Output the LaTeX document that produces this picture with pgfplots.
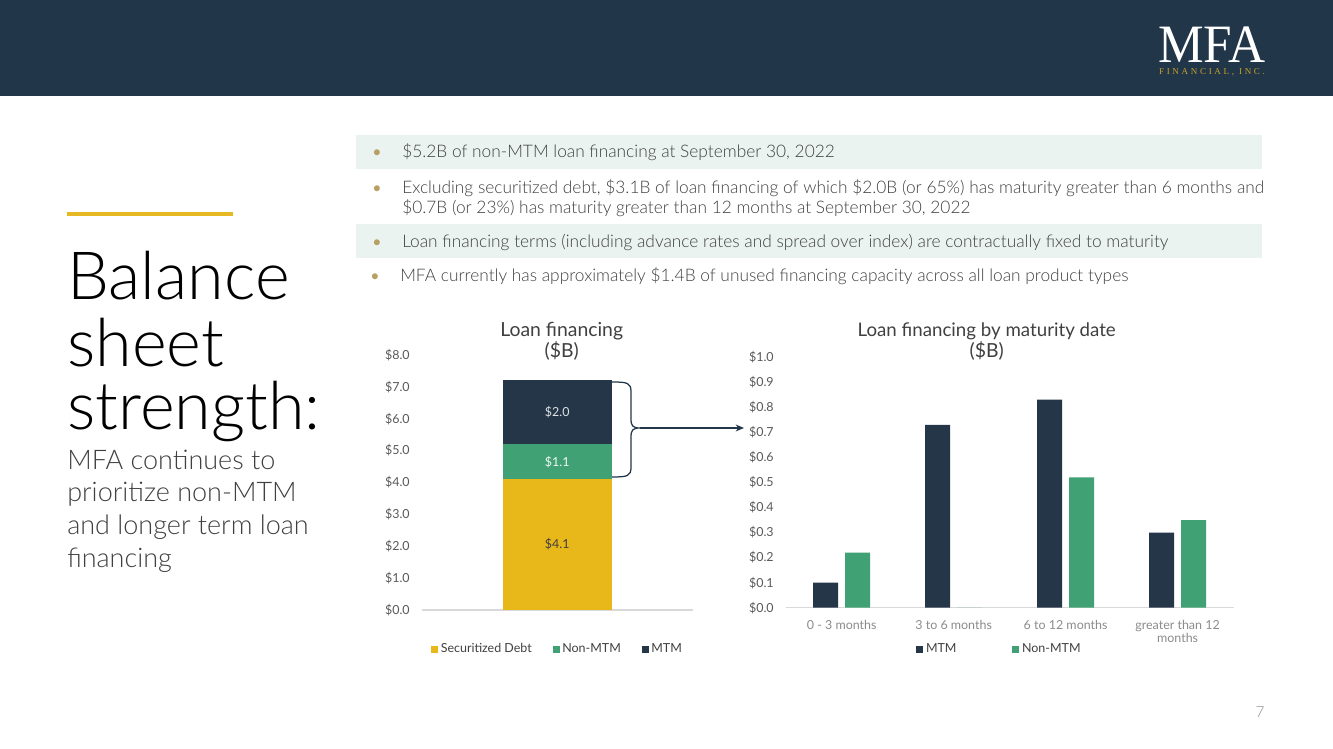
\documentclass[border=0pt]{standalone}
\usepackage{pgfplots}
\pgfplotsset{compat=1.18}
\usepackage{fontspec}
\setmainfont{Lato}
\newfontfamily\latolight{Lato Light}
\newfontfamily\logofont{Liberation Serif}
\newfontfamily\logosmall{Liberation Serif}[LetterSpace=30]
\usetikzlibrary{arrows.meta}

\definecolor{navy}{HTML}{22364A}
\definecolor{mtm}{HTML}{243648}
\definecolor{nonmtm}{HTML}{40A174}
\definecolor{secdebt}{HTML}{E8B71A}
\definecolor{gold}{HTML}{E6B824}
\definecolor{logogold}{HTML}{C9A227}
\definecolor{bandbg}{HTML}{EAF3EF}
\definecolor{bulletc}{HTML}{B89F63}
\definecolor{txt}{HTML}{404040}
\definecolor{ticktxt}{HTML}{595959}
\definecolor{cattxt}{HTML}{8C8C8C}
\definecolor{axisgray}{HTML}{D9D9D9}

\pgfplotsset{
  sq legend/.style={legend image code/.code={\fill[##1] (0in,-0.035in) rectangle (0.07in,0.035in);}},
  slide axis/.style={
    scale only axis, anchor=south west, enlargelimits=false,
    axis lines*=left, axis line style={-, draw=none},
    x axis line style={draw=axisgray, line width=1.1pt},
    major tick length=0pt,
    /pgf/number format/assume math mode=true,
    yticklabel={\$\pgfmathprintnumber[fixed,fixed zerofill,precision=1]{\tick}},
    yticklabel style={font=\fontsize{9}{10}\selectfont, text=ticktxt, inner sep=0pt, anchor=east, xshift=-0.117in},
    legend style={draw=none, fill=none, anchor=center, font=\fontsize{9}{10}\selectfont, text=txt},
  },
}

\begin{document}
\begin{tikzpicture}[x=0.01in,y=0.01in]
% slide and header
\fill[white] (0,0) rectangle (1333,749);
\fill[navy] (0,653) rectangle (1333,749);
\node[anchor=base, inner sep=0pt, white, font=\logofont\fontsize{39}{39}\selectfont, xscale=0.95] at (1212,686.5) {MFA};
\node[anchor=base, inner sep=0pt, logogold, font=\logosmall\fontsize{6.5}{7}\selectfont] at (1212,674.5) {FINANCIAL, INC.};

% left title block
\fill[gold] (66.7,533) rectangle (233.3,537);
\begin{scope}[every node/.style={anchor=base west, inner sep=0pt}]
\node[font=\latolight\fontsize{48}{48}\selectfont, text=black] at (67,449) {Balance};
\node[font=\latolight\fontsize{48}{48}\selectfont, text=black] at (67,382.3) {sheet};
\node[font=\latolight\fontsize{48}{48}\selectfont, text=black] at (67,319) {strength:};
\node[font=\latolight\fontsize{19.5}{20}\selectfont, text=txt] at (67,279.7) {MFA continues to};
\node[font=\latolight\fontsize{19.5}{20}\selectfont, text=txt] at (67,247) {prioritize non-MTM};
\node[font=\latolight\fontsize{19.5}{20}\selectfont, text=txt] at (67,214) {and longer term loan};
\node[font=\latolight\fontsize{19.5}{20}\selectfont, text=txt] at (67,181) {financing};
\end{scope}

% bullets
\fill[bandbg] (356,580) rectangle (1262,614);
\fill[bandbg] (356,491) rectangle (1262,525);
\begin{scope}[every node/.style={anchor=base west, inner sep=0pt, text=txt, font=\latolight\fontsize{12.5}{14}\selectfont}]
\node at (402,591.7) {\$5.2B of non-MTM loan financing at September 30, 2022};
\node at (402,555.7) {Excluding securitized debt, \$3.1B of loan financing of which \$2.0B (or 65\%) has maturity greater than 6 months and};
\node at (402,535.7) {\$0.7B (or 23\%) has maturity greater than 12 months at September 30, 2022};
\node at (402,501.7) {Loan financing terms (including advance rates and spread over index) are contractually fixed to maturity};
\node at (400,467.3) {MFA currently has approximately \$1.4B of unused financing capacity across all loan product types};
\end{scope}
\begin{scope}[every node/.style={anchor=base, inner sep=0pt, text=bulletc, font=\fontsize{11.5}{14}\selectfont}]
\node at (377,591.7) {•};
\node at (377,555.7) {•};
\node at (377,501.7) {•};
\node at (375,467.3) {•};
\end{scope}

\coordinate (leftorigin) at (421.7,139);
\coordinate (rightorigin) at (785.7,141.3);

% left chart: loan financing
\begin{axis}[slide axis, sq legend,
  at={(leftorigin)}, width=2.71in, height=2.55in,
  xmin=0, xmax=2, ymin=0, ymax=8,
  ybar stacked, bar width=1.087in,
  xtick=\empty, ytick={0,1,2,3,4,5,6,7,8},
  legend columns=3,
  legend style={at={(0.502,-0.153)}, /tikz/every even column/.append style={column sep=0.18in}},
  nodes near coords={\$\pgfmathprintnumber[fixed,fixed zerofill,precision=1]{\pgfplotspointmeta}},
  point meta=rawy,
]
\addplot[sq legend, fill=secdebt, draw=none, nodes near coords style={anchor=center, text=txt, font=\fontsize{9}{10}\selectfont}] coordinates {(1,4.1)};
\addlegendentry{Securitized Debt}
\addplot[sq legend, fill=nonmtm, draw=none, nodes near coords style={anchor=center, text=white!92!nonmtm, font=\fontsize{9}{10}\selectfont}] coordinates {(1,1.1)};
\addlegendentry{Non-MTM}
\addplot[sq legend, fill=mtm, draw=none, nodes near coords style={anchor=center, text=white!85!mtm, font=\fontsize{9}{10}\selectfont}] coordinates {(1,2.0)};
\addlegendentry{MTM}
\end{axis}

% right chart: by maturity date
\begin{axis}[slide axis, sq legend,
  at={(rightorigin)}, width=4.476in, height=2.504in,
  xmin=-0.5, xmax=3.5, ymin=0, ymax=1,
  ybar=0.07in, bar width=0.25in,
  xtick={0,1,2,3},
  xticklabels={0 - 3 months, 3 to 6 months, 6 to 12 months, {greater than 12\\months}},
  xticklabel style={align=center, text=cattxt, font=\fontsize{9}{10}\selectfont, inner sep=0pt, anchor=north, yshift=-0.12in},
  ytick={0,0.1,0.2,0.3,0.4,0.5,0.6,0.7,0.8,0.9,1},
  legend columns=2,
  legend style={at={(0.478,-0.165)}, /tikz/every even column/.append style={column sep=0.53in}},
]
\addplot[sq legend, fill=mtm, draw=none] coordinates {(0,0.10) (1,0.73) (2,0.83) (3,0.30)};
\addlegendentry{MTM}
\addplot[sq legend, fill=nonmtm, draw=none] coordinates {(0,0.22) (1,0) (2,0.52) (3,0.35)};
\addlegendentry{Non-MTM}
\end{axis}

% chart titles
\begin{scope}[every node/.style={anchor=base, inner sep=0pt, text=txt, font=\fontsize{14}{15}\selectfont}]
\node at (561.7,412.3) {Loan financing};
\node at (561.7,391.3) {(\$B)};
\node[font=\fontsize{13.5}{15}\selectfont] at (986.7,412.3) {Loan financing by maturity date};
\node at (986.7,391.3) {(\$B)};
\end{scope}

% brace and arrow linking the charts
\draw[navy, line width=0.9pt] (612,367) .. controls (628,367) and (631,366) .. (631,357) -- (631,330)
  .. controls (631,323) and (633,321) .. (640,321)
  .. controls (633,321) and (631,319) .. (631,312) -- (631,282)
  .. controls (631,273) and (628,272) .. (612,272);
\draw[navy, line width=0.9pt, -{Stealth[length=6pt,width=5pt]}] (640,321) -- (744,321);

% page number
\node[anchor=base, text=cattxt, font=\latolight\fontsize{11}{12}\selectfont] at (1260,31) {7};
\end{tikzpicture}
\end{document}
